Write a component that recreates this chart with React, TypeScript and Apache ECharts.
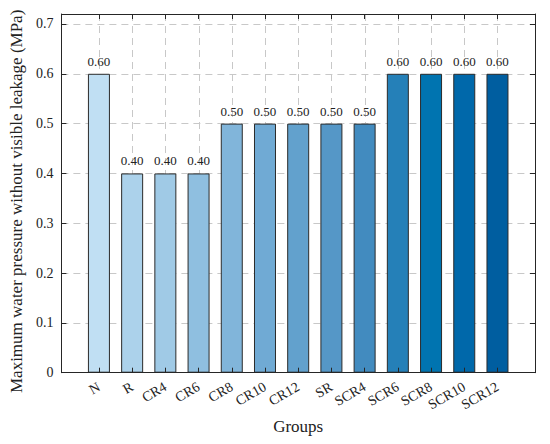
import React, { useEffect, useRef } from "react";
import * as echarts from "echarts";

const categories = ["N", "R", "CR4", "CR6", "CR8", "CR10", "CR12", "SR", "SCR4", "SCR6", "SCR8", "SCR10", "SCR12"];
const values = [0.6, 0.4, 0.4, 0.4, 0.5, 0.5, 0.5, 0.5, 0.5, 0.6, 0.6, 0.6, 0.6];
const barColors = [
  "#c0dff3", "#acd2eb", "#a0cae6", "#8fbfe0", "#81b5da", "#70aad4", "#62a1cd",
  "#5597c7", "#428bbf", "#2580b8", "#0074b0", "#0068aa", "#005ea0",
];
const yTicks = [0, 0.1, 0.2, 0.3, 0.4, 0.5, 0.6, 0.7];
const yMin = 0;
const yMax = 0.72;
const xMin = -0.13;
const xMax = 14.13;

const FONT = "'Liberation Serif', 'Times New Roman', serif";
const GRID_COLOR = "#c8c8c8";

export default function App() {
  const ref = useRef<HTMLDivElement>(null);
  useEffect(() => {
    if (!ref.current) return;
    const chart = echarts.init(ref.current, undefined, { renderer: "svg" });
    const xPos = categories.map((_, i) => i + 1);
    const axisColor = "#262626";
    const tickAxisX = (position: "top" | "bottom") => ({
      type: "value",
      position,
      min: xMin,
      max: xMax,
      z: 10,
      axisLine: { show: true, onZero: false, lineStyle: { color: axisColor, width: 1 } },
      axisTick: { show: true, inside: true, length: 5, customValues: xPos, lineStyle: { color: axisColor } },
      axisLabel: { show: false },
      splitLine: { show: false },
    });
    const tickAxisY = (position: "left" | "right") => ({
      type: "value",
      position,
      min: yMin,
      max: yMax,
      z: 10,
      axisLine: { show: true, onZero: false, lineStyle: { color: axisColor, width: 1 } },
      axisTick: { show: true, inside: true, length: 5, customValues: yTicks, lineStyle: { color: axisColor } },
      axisLabel: { show: false },
      splitLine: { show: false },
    });
    chart.setOption({
      animation: false,
      backgroundColor: "#ffffff",
      grid: { left: 55.3, top: 14, right: 15, bottom: 71.3, containLabel: false },
      xAxis: [
        {
          type: "value",
          position: "bottom",
          min: xMin,
          max: xMax,
          name: "Groups",
          nameLocation: "middle",
          nameGap: 44,
          nameTextStyle: { fontFamily: FONT, fontSize: 17, color: "#222" },
          axisLine: { show: false },
          axisTick: { show: false, customValues: xPos },
          axisLabel: {
            show: true,
            customValues: xPos,
            rotate: 30,
            margin: 13,
            fontFamily: FONT,
            fontSize: 14,
            color: "#222",
            formatter: (v: number) => categories[Math.round(v) - 1] ?? "",
          },
          splitLine: { show: false },
        },
        tickAxisX("bottom"),
        tickAxisX("top"),
      ],
      yAxis: [
        {
          type: "value",
          position: "left",
          min: yMin,
          max: yMax,
          name: "Maximum water pressure without visible leakage (MPa)",
          nameLocation: "middle",
          nameGap: 28,
          nameTextStyle: { fontFamily: FONT, fontSize: 17, color: "#222", padding: [0, 16, 0, 0] },
          axisLine: { show: false },
          axisTick: { show: false, customValues: yTicks },
          axisLabel: {
            show: true,
            customValues: yTicks,
            margin: 8,
            fontFamily: FONT,
            fontSize: 14,
            color: "#222",
            formatter: (v: number) => (v === 0 ? "0" : String(Math.round(v * 10) / 10)),
          },
          splitLine: { show: true, lineStyle: { color: GRID_COLOR, type: [7, 5], width: 1 } },
        },
        tickAxisY("left"),
        tickAxisY("right"),
      ],
      series: [
        {
          type: "bar",
          xAxisIndex: 0,
          yAxisIndex: 0,
          z: 2,
          barWidth: 22,
          data: values.map((v, i) => ({
            value: [i + 1, v],
            itemStyle: { color: barColors[i], borderColor: "#2b2b2b", borderWidth: 1 },
          })),
          label: {
            show: true,
            position: "top",
            distance: 6,
            fontFamily: FONT,
            fontSize: 13,
            color: "#222",
            formatter: (p: any) => Number(p.value[1]).toFixed(2),
          },
        },
      ],
    });
    // vertical dashed grid lines at the category positions, placed through the axis scales
    const finder = { xAxisIndex: 0, yAxisIndex: 0 };
    const lines = xPos.map((x) => {
      const top = chart.convertToPixel(finder, [x, yMax]) as number[];
      const bottom = chart.convertToPixel(finder, [x, yMin]) as number[];
      const px = Math.round(top[0]) + 0.5;
      return {
        type: "line",
        z: 1,
        silent: true,
        shape: { x1: px, y1: top[1], x2: px, y2: bottom[1] },
        style: { stroke: GRID_COLOR, lineWidth: 1, lineDash: [7, 5] },
      };
    });
    chart.setOption({ graphic: lines });
    return () => chart.dispose();
  }, []);
  return (
    <div
      ref={ref}
      style={{ position: "fixed", left: 0, top: 0, width: 550, height: 444, background: "#fff" }}
    />
  );
}
